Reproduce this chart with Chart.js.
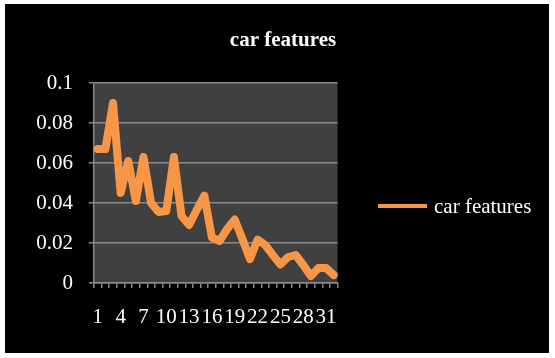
<!DOCTYPE html>
<html>
<head>
<meta charset="utf-8">
<script src="https://cdn.jsdelivr.net/npm/chart.js@4"></script>
<style>
  html, body { margin: 0; padding: 0; background: #fff; }
  #frame { position: absolute; left: 5px; top: 4px; width: 544px; height: 349px; background: #000; }
  #chart { display: block; }
</style>
</head>
<body>
<div id="frame"><canvas id="chart" width="544" height="349"></canvas></div>
<script>
// chart data
const categories = ['1','2','3','4','5','6','7','8','9','10','11','12','13','14','15','16',
  '17','18','19','20','21','22','23','24','25','26','27','28','29','30','31','32'];
const carFeatures = [0.067, 0.067, 0.09, 0.045, 0.061, 0.041, 0.063, 0.040, 0.0355, 0.036,
  0.063, 0.0335, 0.029, 0.0365, 0.0437, 0.0227, 0.021, 0.027, 0.0317, 0.022, 0.012, 0.0217,
  0.019, 0.014, 0.0093, 0.013, 0.014, 0.009, 0.0035, 0.0075, 0.0075, 0.004];
const yTicks = [0, 0.02, 0.04, 0.06, 0.08, 0.1];
const yTickLabels = ['0', '0.02', '0.04', '0.06', '0.08', '0.1'];
const seriesName = 'car features';
const chartTitle = 'car features';

const orange = '#f79646';
const gridGray = '#8a8a8a';
const serif = 'Liberation Serif';

// plot background, title and legend drawn by hand
const decor = {
  id: 'decor',
  beforeDraw(chart) {
    const a = chart.chartArea;
    const ctx = chart.ctx;
    ctx.save();
    ctx.fillStyle = '#404040';
    ctx.fillRect(a.left, a.top, a.right - a.left, a.bottom - a.top);
    ctx.restore();
  },
  afterDraw(chart) {
    const ctx = chart.ctx;
    ctx.save();
    ctx.fillStyle = '#fff';
    ctx.textBaseline = 'middle';
    ctx.textAlign = 'center';
    ctx.font = 'bold 21px "' + serif + '"';
    ctx.fillText(chartTitle, 278, 37);

    // legend
    ctx.strokeStyle = orange;
    ctx.lineWidth = 4;
    ctx.beginPath();
    ctx.moveTo(373, 202);
    ctx.lineTo(422, 202);
    ctx.stroke();
    ctx.textAlign = 'left';
    ctx.font = '21px "' + serif + '"';
    ctx.fillText(seriesName, 429, 203);
    ctx.restore();
  }
};

new Chart(document.getElementById('chart'), {
  type: 'line',
  data: {
    labels: categories,
    datasets: [{
      label: seriesName,
      data: carFeatures,
      borderColor: orange,
      borderWidth: 8,
      borderJoinStyle: 'round',
      borderCapStyle: 'round',
      pointRadius: 0,
      tension: 0,
      fill: false
    }]
  },
  options: {
    responsive: false,
    animation: false,
    layout: { padding: { top: 79, right: 211.5, left: 0, bottom: 0 } },
    plugins: {
      legend: { display: false },
      title: { display: false },
      tooltip: { enabled: false }
    },
    scales: {
      x: {
        offset: true,
        grid: { offset: true, drawOnChartArea: false, drawTicks: true, tickLength: 5, color: gridGray, lineWidth: 1.5 },
        border: { display: true, color: gridGray, width: 1.5 },
        ticks: {
          autoSkip: false,
          maxRotation: 0,
          padding: 17,
          color: '#fff',
          font: { family: serif, size: 21 },
          callback: (v, i) => (i % 3 === 0 ? categories[i] : '')
        },
        afterFit: (s) => { s.height = 70; }
      },
      y: {
        min: 0,
        max: 0.1,
        afterBuildTicks: (s) => { s.ticks = yTicks.map(v => ({ value: v })); },
        grid: { color: gridGray, lineWidth: 1.5, tickLength: 5 },
        border: { display: true, color: gridGray, width: 1.5 },
        ticks: {
          padding: 16,
          color: '#fff',
          font: { family: serif, size: 21 },
          callback: (v, i) => yTickLabels[i]
        },
        afterFit: (s) => { s.width = 89; }
      }
    }
  },
  plugins: [decor]
});
</script>
</body>
</html>
